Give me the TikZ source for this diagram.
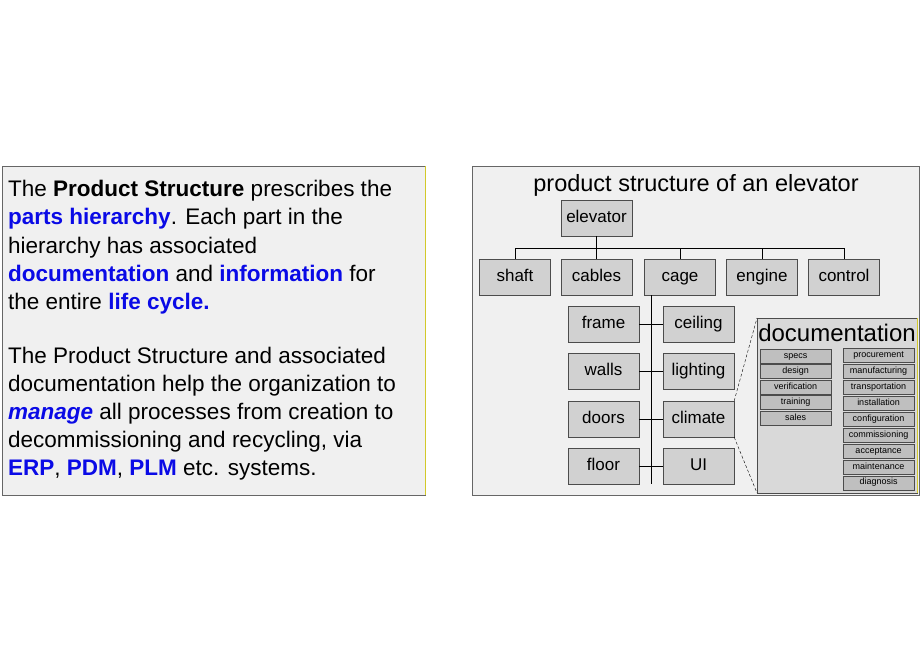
\documentclass[tikz,border=0pt]{standalone}
\usepackage{fontspec}
\setmainfont{Liberation Sans}
\definecolor{hl}{RGB}{10,10,230}
\tikzset{
  part/.style={draw=black!70, fill=black!18, minimum width=71pt, minimum height=36pt, inner sep=0pt, text height=12pt, text depth=3.5pt, font=\fontsize{17}{17}\selectfont},
  doc/.style={draw=black!70, fill=black!25, minimum width=71pt, minimum height=14pt, inner sep=0pt, text height=6.5pt, text depth=2pt, font=\fontsize{9}{9}\selectfont},
  txt/.style={anchor=base west, inner sep=0pt, font=\fontsize{22.5}{22.5}\selectfont}
}
\newcommand{\hb}[1]{\textcolor{hl}{\textbf{#1}}}
\begin{document}
\begin{tikzpicture}[x=1pt, y=-1pt]
\useasboundingbox (0,0) rectangle (920,660);
% left text panel
\draw [draw=black!60, fill=black!6] (2,166) rectangle (425,495);
\draw [yellow!80!black] (425,166) -- (425,495);
\node (t1) [txt] at (8,197) {The \textbf{Product Structure} prescribes the};
\node (t2) [txt] at (8,225) {\hb{parts hierarchy}. Each part in the};
\node (t3) [txt] at (8,253) {hierarchy has associated};
\node (t4) [txt] at (8,281) {\hb{documentation} and \hb{information} for};
\node (t5) [txt] at (8,309) {the entire \hb{life cycle.}};
\node (t6) [txt] at (8,363) {The Product Structure and associated};
\node (t7) [txt] at (8,391) {documentation help the organization to};
\node (t8) [txt] at (8,419) {\hb{\textit{manage}} all processes from creation to};
\node (t9) [txt] at (8,447) {decommissioning and recycling, via};
\node (t10) [txt] at (8,475) {\hb{ERP}, \hb{PDM}, \hb{PLM} etc. systems.};
% right panel
\draw [draw=black!60, fill=black!6] (472,166) rectangle (919,495);
\node (title) at (696,185) {\fontsize{23.5}{23.5}\selectfont product structure of an elevator};
\node (elevator) [part] at (596.5,218) {elevator};
\node (shaft) [part] at (515,277) {shaft};
\node (cables) [part] at (596.5,277) {cables};
\node (cage) [part] at (680,277) {cage};
\node (engine) [part] at (762,277) {engine};
\node (control) [part] at (844,277) {control};
\coordinate (bus) at (596.5,248);
\draw (elevator.south) -- (bus);
\draw (shaft.north) |- (control.north |- bus) -- (control.north);
\foreach \n in {cables,cage,engine} \draw (\n.north) -- (\n.north |- bus);
\node (frame) [part] at (603.5,324) {frame};
\node (walls) [part] at (603.5,371.5) {walls};
\node (doors) [part] at (603.5,419) {doors};
\node (floor) [part] at (603.5,466) {floor};
\node (ceiling) [part] at (698.5,324) {ceiling};
\node (lighting) [part] at (698.5,371.5) {lighting};
\node (climate) [part] at (698.5,419) {climate};
\node (UI) [part] at (698.5,466) {UI};
\coordinate (spine) at (651,295);
\draw (spine) -- (651,484);
\foreach \a/\b in {frame/ceiling,walls/lighting,doors/climate,floor/UI} \draw (\a.east) -- (\b.west);
% documentation panel
\draw [draw=black!70, fill=black!15] (757,318) rectangle (917,493);
\draw [yellow!80!black] (917,318) -- (917,493);
\node (docs) at (837,333) {\fontsize{24}{24}\selectfont documentation};
\draw [densely dashed] (climate.north east) -- (757,318);
\draw [densely dashed] (climate.south east) -- (757,493);
\foreach \t [count=\i from 0] in {specs,design,verification,training,sales}
  \node (d\i) [doc] at (795.5,356+15.5*\i) {\t};
\foreach \t [count=\i from 0] in {procurement,manufacturing,transportation,installation,configuration,commissioning,acceptance,maintenance,diagnosis}
  \node (p\i) [doc] at (878.5,355.5+15.9*\i) {\t};
\end{tikzpicture}
\end{document}
